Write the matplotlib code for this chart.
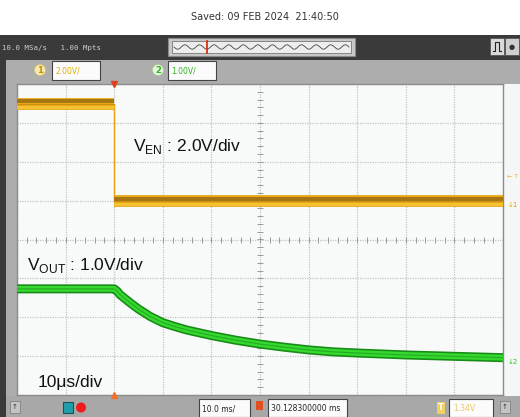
import numpy as np
import matplotlib.pyplot as plt
from matplotlib.patches import Rectangle, Circle

plt.rcParams['mathtext.fontset'] = 'custom'
plt.rcParams['mathtext.rm'] = 'Liberation Sans'

# time in us (10 us/div, 10 div), voltages in V
t_en = [-50, -30, -30, 50]
v_en = [5.0, 5.0, 0.0, 0.0]

t_out = [-50, -30, -29.4, -28.8, -26.7, -25.1, -22.6, -20, -17.5, -15, -12.5, -10, -5, 0,
         5, 10, 15, 20, 30, 40, 50]
v_out = [1.83, 1.83, 1.77, 1.68, 1.47, 1.32, 1.12, 0.96, 0.86, 0.77, 0.70, 0.63, 0.51, 0.41,
         0.33, 0.26, 0.21, 0.18, 0.13, 0.095, 0.06]

ch1_scale, ch1_off = 2.0, 0.99   # V/div, ground position in div
ch2_scale, ch2_off = 1.0, -3.10

header = "Saved: 09 FEB 2024  21:40:50"
acq = "10.0 MSa/s   1.00 Mpts"
ch1_label, ch2_label = "2.00V/", "1.00V/"
tb_label, pos_label, trig_label = "10.0 ms/", "30.128300000 ms", "1.34V"

fig = plt.figure(figsize=(5.2, 4.17), dpi=100)
fig.patch.set_facecolor('white')

# background / scope chrome in pixel coordinates
bg = fig.add_axes([0, 0, 1, 1])
bg.set_xlim(0, 520)
bg.set_ylim(417, 0)
bg.axis('off')

def box(x, y, w, h, fc, ec='none', lw=0, z=1):
    bg.add_patch(Rectangle((x, y), w, h, facecolor=fc, edgecolor=ec, linewidth=lw, zorder=z))

box(0, 35, 520, 25, '#3a3a3a')
box(0, 35, 6, 382, '#3a3a3a')
box(6, 60, 514, 24, '#adadad')
box(6, 60, 11, 340, '#adadad')
box(6, 396, 514, 21, '#a8a8a8')
box(503, 84, 17, 312, '#f5f7f7')

bg.text(265, 17, header, ha='center', va='center', fontsize=7, color='#333333')
bg.text(2, 48, acq, ha='left', va='center', fontsize=5.3, color='#cfcfcf', family='DejaVu Sans Mono')

# overview strip
box(168, 38, 187, 18, '#c9c9c9', '#8a8a8a', 0.8)
box(172, 41, 179, 12, '#ededed', '#777777', 0.6)
xs = np.linspace(174, 349, 300)
bg.plot(xs, 47 + 2.2 * np.sin((xs - 174) / 175 * 2 * np.pi * 12), color='#444444', lw=0.6, zorder=3)
bg.plot([207, 207], [41, 53], color='#dd2200', lw=1.2, zorder=4)

# right icons
box(490, 38, 14, 17, '#d9d9d9', '#555555', 0.6)
bg.plot([493, 495, 495, 499, 499, 501], [51, 51, 42, 42, 51, 51], color='#222222', lw=0.8, zorder=3)
box(505, 38, 14, 17, '#cfcfcf', '#555555', 0.6)
bg.text(512, 47, "\u25cf", ha='center', va='center', fontsize=5, color='#333333', zorder=3)

# channel boxes
bg.add_patch(Circle((40, 70), 5.5, facecolor='#f6eab0', edgecolor='#d8c070', lw=0.6, zorder=3))
bg.text(40, 70.5, "1", ha='center', va='center', fontsize=6, color='#c89000', fontweight='bold', zorder=4)
box(52, 61, 48, 19, '#fbfbfb', '#444444', 0.8, z=3)
bg.text(55, 70.5, ch1_label, ha='left', va='center', fontsize=5.5, color='#e0b000', zorder=4)
bg.add_patch(Circle((158, 70), 5.5, facecolor='#e8f6e0', edgecolor='#a8d090', lw=0.6, zorder=3))
bg.text(158, 70.5, "2", ha='center', va='center', fontsize=6, color='#30b020', fontweight='bold', zorder=4)
box(168, 61, 48, 19, '#fbfbfb', '#444444', 0.8, z=3)
bg.text(171, 70.5, ch2_label, ha='left', va='center', fontsize=5.5, color='#30b020', zorder=4)

# bottom bar
box(10, 401, 10, 12, '#c4c4c4', '#777777', 0.5)
bg.text(15, 407, "\u2191", ha='center', va='center', fontsize=5, color='#333333')
box(63, 402, 10, 11, '#1fa0a8', '#205060', 0.8)
bg.add_patch(Circle((81, 407.5), 5, facecolor='#ee1c1c', edgecolor='none', zorder=2))
box(199, 399, 51, 18, '#fbfbfb', '#444444', 0.8)
bg.text(202, 408.5, tb_label, ha='left', va='center', fontsize=5.5, color='#222222')
box(256, 401, 7, 9, '#e05020')
box(268, 399, 79, 18, '#fbfbfb', '#444444', 0.8)
bg.text(271, 408.5, pos_label, ha='left', va='center', fontsize=5.5, color='#222222')
box(437, 402, 8, 12, '#f0d060')
bg.text(441, 408, "T", ha='center', va='center', fontsize=6, color='#ffffff', fontweight='bold')
box(449, 399, 44, 18, '#fbfbfb', '#444444', 0.8)
bg.text(453, 408.5, trig_label, ha='left', va='center', fontsize=5.5, color='#e8c860')
box(500, 401, 10, 12, '#c4c4c4', '#777777', 0.5)
bg.text(505, 407, "\u2191", ha='center', va='center', fontsize=5, color='#333333')

# right-side level markers
bg.text(507, 176, "\u2190 T", ha='left', va='center', fontsize=4.5, color='#e0b040')
bg.text(508, 205, "\u21931", ha='left', va='center', fontsize=5, color='#e0a000')
bg.text(508, 362, "\u21932", ha='left', va='center', fontsize=5, color='#30c020')

# graticule
ax = fig.add_axes([17 / 520, (417 - 395) / 417, 486 / 520, 311 / 417])
ax.set_facecolor('#f8fafa')
ax.set_xlim(-50, 50)
ax.set_ylim(-4, 4)
ax.set_xticks(np.arange(-50, 51, 10))
ax.set_yticks(np.arange(-4, 5, 1))
ax.tick_params(length=0, labelbottom=False, labelleft=False)
ax.grid(True, color='#c4c4c4', linestyle=(0, (1, 1)), linewidth=0.9)
for s in ax.spines.values():
    s.set_color('#8c8c8c')
    s.set_linewidth(1.0)
ax.plot(np.arange(-50, 51, 2), np.zeros(51), linestyle='none', marker='|', markersize=4,
        color='#9a9a9a', markeredgewidth=0.7)
ax.plot(np.zeros(41), np.arange(-4, 4.01, 0.2), linestyle='none', marker='_', markersize=4,
        color='#9a9a9a', markeredgewidth=0.7)

# CH1 (V_EN)
y_en = np.array(v_en) / ch1_scale + ch1_off
ax.plot(t_en, y_en, color='#e8a010', lw=1.0, zorder=3)
for i in (0, 2):
    seg_t, seg_y = t_en[i:i + 2], y_en[i:i + 2]
    ax.plot(seg_t, seg_y, color='#e8a818', lw=8.5, solid_capstyle='butt', zorder=4)
    ax.plot(seg_t, seg_y + 0.06, color='#8a6010', lw=2.8, alpha=0.7, solid_capstyle='butt', zorder=5)
    ax.plot(seg_t, seg_y - 0.07, color='#f6c434', lw=2.0, solid_capstyle='butt', zorder=5)
    ax.plot(seg_t, seg_y - 0.01, color='#b07a10', lw=0.6, alpha=0.6, solid_capstyle='butt', zorder=5)

# CH2 (V_OUT)
y_out = np.array(v_out) / ch2_scale + ch2_off
ax.plot(t_out, y_out, color='#178a17', lw=6.5, solid_capstyle='butt', solid_joinstyle='round', zorder=4)
ax.plot(t_out, y_out, color='#34d82e', lw=4.2, solid_capstyle='butt', solid_joinstyle='round', zorder=5)
ax.plot(t_out, y_out, color='#22a022', lw=0.8, alpha=0.8, solid_capstyle='butt', zorder=6)

# trigger position markers
ax.plot([-30], [4], marker='v', markersize=5, color='#e04020', clip_on=False, zorder=7)
ax.plot([-30], [-4], marker='^', markersize=4, color='#f07030', clip_on=False, zorder=7)

# annotations
ax.text(-26.1, 2.4, r'V$_{\mathrm{EN}}$ : 2.0V/div', ha='left', va='center', fontsize=12.5,
        family='Liberation Sans', color='#111111', zorder=8)
ax.text(-47.9, -0.66, r'V$_{\mathrm{OUT}}$ : 1.0V/div', ha='left', va='center', fontsize=12.5,
        family='Liberation Sans', color='#111111', zorder=8)
ax.text(-45.7, -3.69, '10\u03bcs/div', ha='left', va='center', fontsize=12.5,
        family='Liberation Sans', color='#111111', zorder=8)

fig.savefig('out.png', dpi=100)
